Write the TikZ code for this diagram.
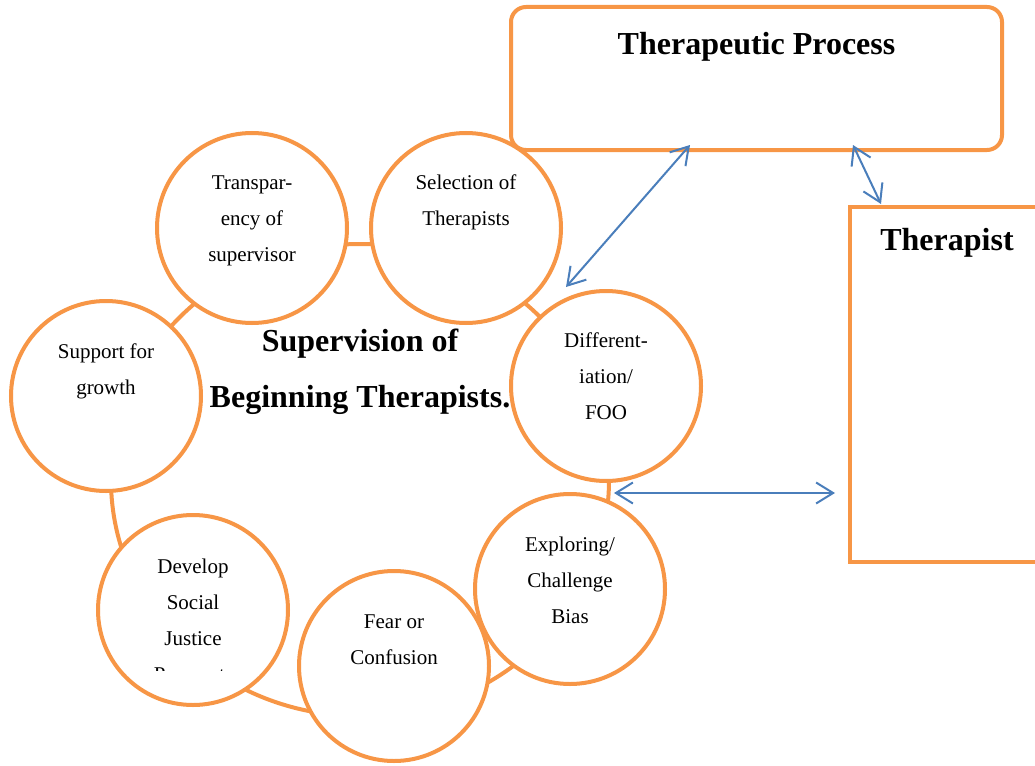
\documentclass[tikz,border=0pt]{standalone}
\usepackage{fontspec}
\setmainfont{Liberation Serif}
\usetikzlibrary{arrows.meta}
\definecolor{orng}{HTML}{F79646}
\definecolor{blu}{HTML}{4A7EBB}
\begin{document}
\begin{tikzpicture}[x=1pt,y=-1pt,
 bubble/.style={circle, draw=orng, line width=4pt, fill=white, minimum size=190pt, inner sep=0pt},
 btext/.style={align=center, inner sep=0pt, anchor=north, font=\fontsize{21}{36}\selectfont},
 boxstyle/.style={draw=orng, line width=4pt, fill=white},
 titletext/.style={font=\bfseries\fontsize{32}{40}\selectfont, inner sep=0pt, anchor=base},
 biarrow/.style={draw=blu, line width=2pt, {Straight Barb[length=17pt,width=21pt]}-{Straight Barb[length=17pt,width=21pt]}},
 ring/.style={draw=orng, line width=4pt}]
\useasboundingbox (0,0) rectangle (1035,765);
\clip (0,0) rectangle (1035,765);
% ring
\draw[ring] (360,480) ellipse [x radius=249pt, y radius=236pt];
% boxes
\node[boxstyle, rounded corners=15pt, minimum width=491pt, minimum height=143pt] (tp) at (756.5,78.5) {};
\node[titletext] (tpt) at (756.5,55) {Therapeutic Process};
\node[boxstyle, minimum width=194pt, minimum height=355pt] (th) at (947,384.5) {};
\node[titletext] (tht) at (947,250) {Therapist};
% circles
\node[bubble] (c1) at (252,228) {};
\node[bubble] (c2) at (466,228) {};
\node[bubble] (c3) at (606,386) {};
\node[bubble] (c4) at (570,589) {};
\node[bubble] (c5) at (394,666) {};
\node[bubble] (c6) at (193,610) {};
\node[bubble] (c7) at (106,396) {};
% circle texts
\node[btext] (t1) at (252,173) {\rule{0pt}{16pt}Transpar-\\ency of\\supervisor};
\node[btext] (t2) at (466,173) {\rule{0pt}{16pt}Selection of\\Therapists};
\node[btext] (t3) at (606,331) {\rule{0pt}{16pt}Different-\\iation/\\FOO};
\node[btext] (t4) at (570,535) {\rule{0pt}{16pt}Exploring/\\Challenge\\Bias};
\node[btext] (t5) at (394,612) {\rule{0pt}{16pt}Fear or\\Confusion};
\begin{scope}
\clip (0,0) rectangle (1035,670.5);
\node[btext] (t6) at (193,557) {\rule{0pt}{16pt}Develop\\Social\\Justice\\Perspect-};
\end{scope}
\node[btext] (t7) at (106,342) {\rule{0pt}{16pt}Support for\\growth};
% centre label
\node[font=\bfseries\fontsize{32}{56}\selectfont, align=center, inner sep=0pt, anchor=north] (sup) at (360,327) {\rule{0pt}{24pt}Supervision of\\Beginning Therapists.};
% arrows
\coordinate (a1s) at ([shift={(-40,-99)}]c3.center);
\coordinate (a1e) at ([shift={(-66.5,66.5)}]tp.center);
\coordinate (a2s) at ([shift={(96.5,66.5)}]tp.center);
\coordinate (a2e) at ([shift={(-66,-180.5)}]th.center);
\coordinate (a3s) at ([shift={(8,107)}]c3.center);
\coordinate (a3e) at ([shift={(-112,108.5)}]th.center);
\draw[biarrow] (a1s) -- (a1e);
\draw[biarrow] (a2s) -- (a2e);
\draw[biarrow] (a3s) -- (a3e);
\end{tikzpicture}
\end{document}
